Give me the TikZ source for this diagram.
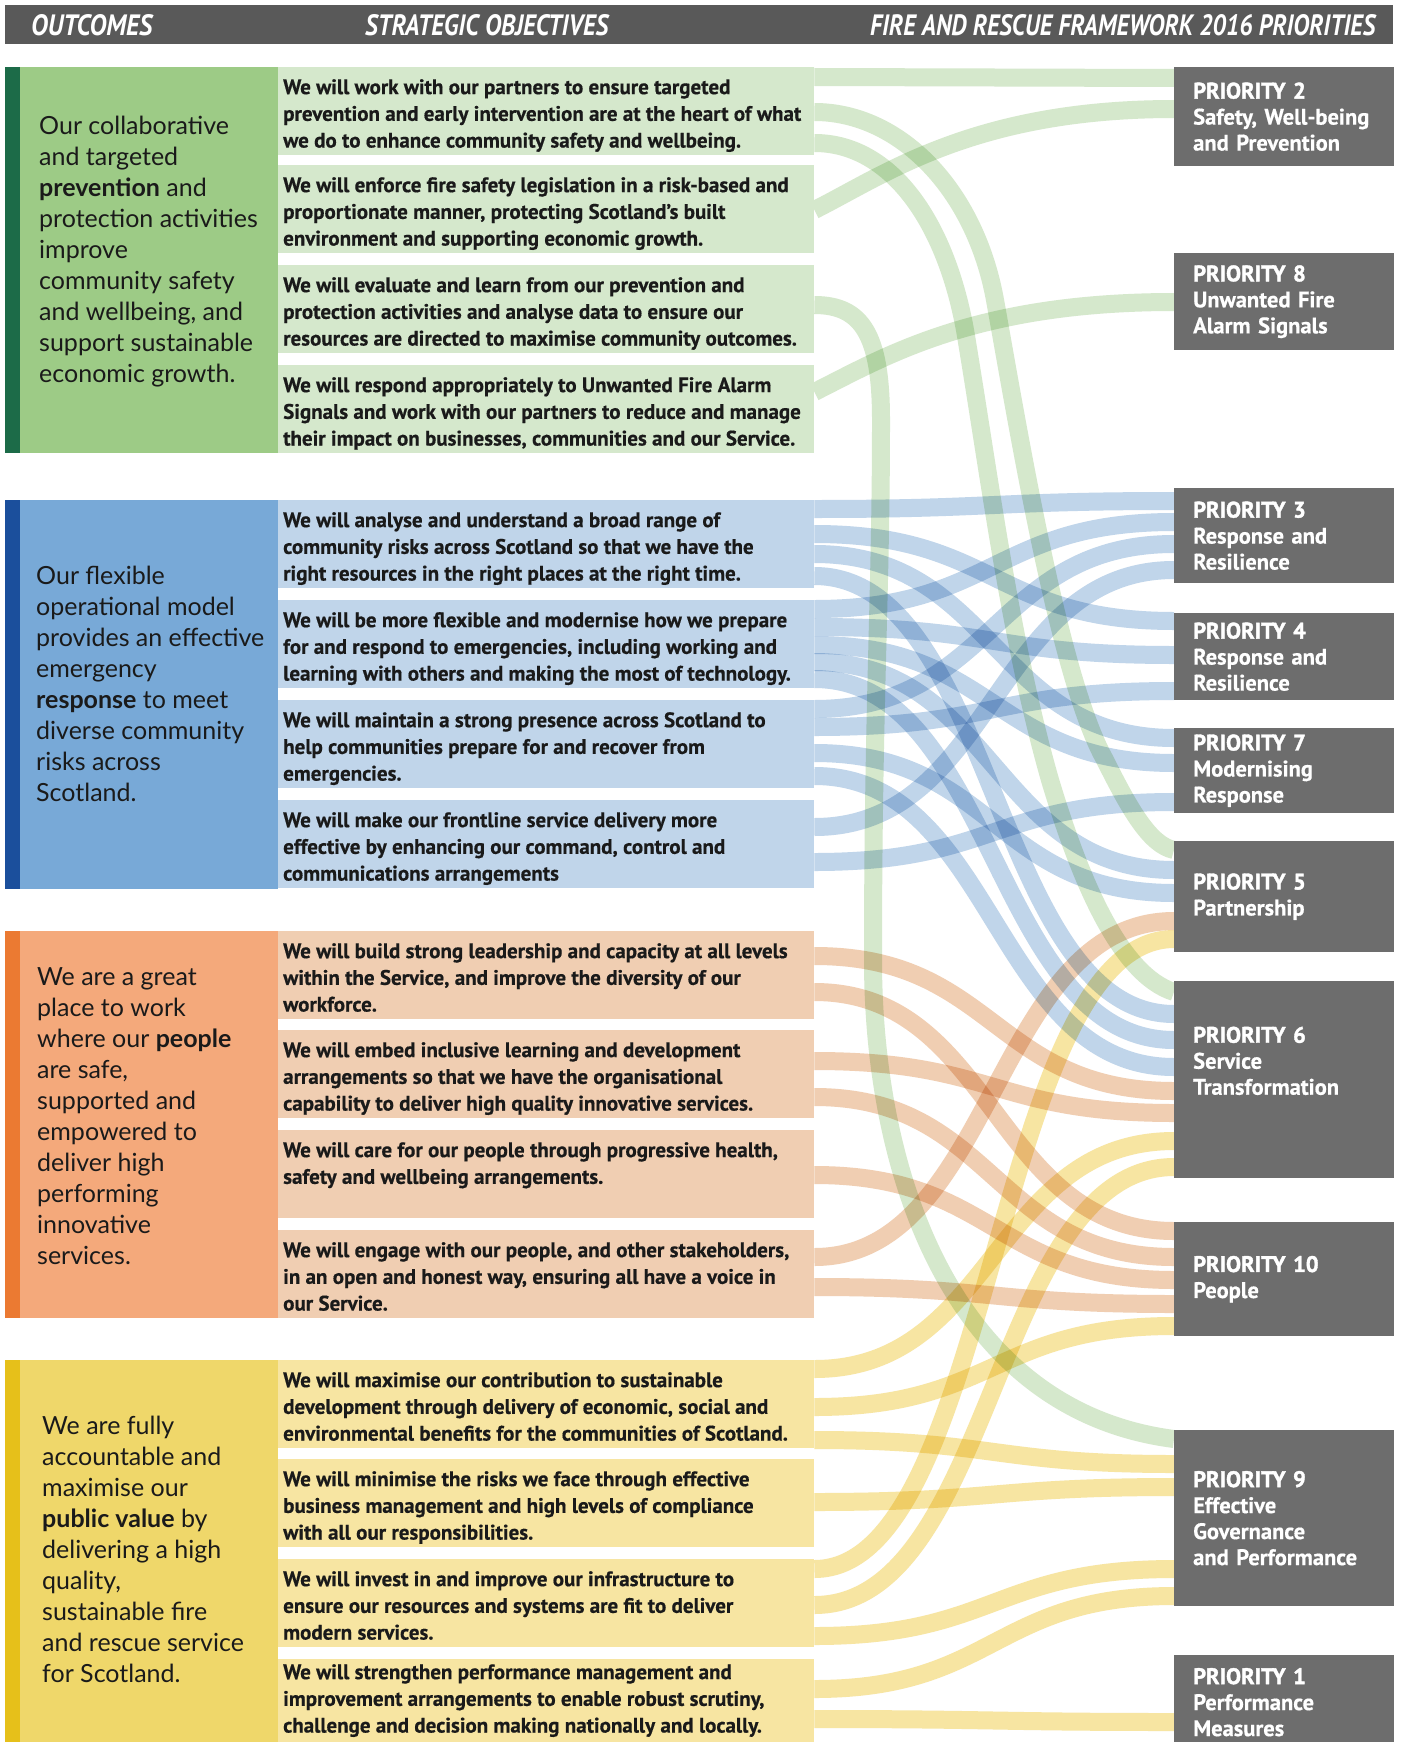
\documentclass[tikz,border=0pt]{standalone}
\usepackage{graphicx}
\usepackage{fontspec}
\setmainfont{PT Sans}[BoldFeatures={FakeBold=0.5}]
\newfontfamily\heavyfont{PT Sans}[BoldFeatures={FakeBold=1.6}]
\newfontfamily\outfont{Lato}
\usepackage{tikz}

\definecolor{hdrgrey}{HTML}{595959}
\definecolor{prigrey}{HTML}{6D6D6D}
\definecolor{txtdark}{HTML}{1A1A1A}
\definecolor{gdark}{HTML}{1C6B48}
\definecolor{gmid}{HTML}{9DCB86}
\definecolor{glight}{HTML}{D5E8CC}
\definecolor{bdark}{HTML}{1B4F9C}
\definecolor{bmid}{HTML}{78A9D7}
\definecolor{blight}{HTML}{C0D5EA}
\definecolor{odark}{HTML}{EB7A32}
\definecolor{omid}{HTML}{F4A97B}
\definecolor{olight}{HTML}{F0CEB2}
\definecolor{ydark}{HTML}{E6C01A}
\definecolor{ymid}{HTML}{EFD76A}
\definecolor{ylight}{HTML}{F7E5A2}

\pgfdeclarelayer{ribbons}
\pgfsetlayers{ribbons,main}

\newcommand\objtext[2][0pt]{\parbox[c][64pt][t]{526pt}{\vspace*{#1}\raggedright#2}}
\newcommand\prihead[1]{{\heavyfont\bfseries PRIORITY #1}}

\begin{document}
\begin{tikzpicture}
      [x=1pt, y=-1pt,
      outbox/.style 2 args={anchor=north west, minimum width=273pt, inner sep=0pt, fill=#1,
        path picture={\fill[#2] (path picture bounding box.north west) rectangle ([xshift=15pt]path picture bounding box.south west);}},
      outtxt/.style={anchor=west, inner sep=0pt, align=left, text=txtdark, font=\outfont\fontsize{25}{31}\selectfont},
      objbox/.style={anchor=north west, minimum width=536pt, minimum height=88pt, inner sep=0pt, fill=#1,
        text=txtdark, font=\fontsize{21}{26.7}\selectfont\bfseries},
      pribox/.style={anchor=north west, minimum width=220pt, minimum height=#1, inner sep=0pt, fill=prigrey,
        text=white, text width=182pt, align=left, font=\fontsize{22.5}{26}\selectfont\bfseries},
      hdrtxt/.style={anchor=base west, inner sep=0pt, text=white, font=\bfseries\itshape},
      flow/.style={line width=18pt, draw=#1}]
      \useasboundingbox (0,0) rectangle (1400,1742);
      \clip (0,0) rectangle (1400,1742);

      \node (hdr) at (5,5) [anchor=north west, fill=hdrgrey, minimum width=1388pt, minimum height=39pt, inner sep=0pt] {};
      \node (hdrout) at (31,35.5) [hdrtxt] {\resizebox{121pt}{21pt}{OUTCOMES}};
      \node (hdrobj) at (365,35.5) [hdrtxt] {\resizebox{243pt}{21pt}{STRATEGIC OBJECTIVES}};
      \node (hdrpri) at (870,35.5) [hdrtxt] {\resizebox{505pt}{21pt}{FIRE AND RESCUE FRAMEWORK 2016 PRIORITIES}};

      \node (prev) at (5,67) [outbox={gmid}{gdark}, minimum height=386pt] {};
      \node (resp) at (5,500) [outbox={bmid}{bdark}, minimum height=389pt] {};
      \node (peop) at (5,931) [outbox={omid}{odark}, minimum height=387pt] {};
      \node (pval) at (5,1360) [outbox={ymid}{ydark}, minimum height=390pt] {};

      \node (prevtxt) at (39,252) [outtxt] {Our collaborative\\and targeted\\\textbf{prevention} and\\protection activities\\improve\\community safety\\and wellbeing, and\\support sustainable\\economic growth.};
      \node (resptxt) at (36,684) [outtxt] {Our flexible\\operational model\\provides an effective\\emergency\\\textbf{response} to meet\\diverse community\\risks across\\Scotland.};
      \node (peoptxt) at (37,1116) [outtxt] {We are a great\\place to work\\where our \textbf{people}\\are safe,\\supported and\\empowered to\\deliver high\\performing\\innovative\\services.};
      \node (pvaltxt) at (42,1549) [outtxt] {We are fully\\accountable and\\maximise our\\\textbf{public value} by\\delivering a high\\quality,\\sustainable fire\\and rescue service\\for Scotland.};

      \node (prev1) at (278,67) [objbox=glight] {\objtext{We will work with our partners to ensure targeted\\prevention and early intervention are at the heart of what\\we do to enhance community safety and wellbeing.}};
      \node (prev2) at (278,165) [objbox=glight] {\objtext{We will enforce fire safety legislation in a risk-based and\\proportionate manner, protecting Scotland’s built\\environment and supporting economic growth.}};
      \node (prev3) at (278,265) [objbox=glight] {\objtext{We will evaluate and learn from our prevention and\\protection activities and analyse data to ensure our\\resources are directed to maximise community outcomes.}};
      \node (prev4) at (278,365) [objbox=glight] {\objtext{We will respond appropriately to Unwanted Fire Alarm\\Signals and work with our partners to reduce and manage\\their impact on businesses, communities and our Service.}};
      \node (resp1) at (278,500) [objbox=blight] {\objtext{We will analyse and understand a broad range of\\community risks across Scotland so that we have the\\right resources in the right places at the right time.}};
      \node (resp2) at (278,600) [objbox=blight] {\objtext{We will be more flexible and modernise how we prepare\\for and respond to emergencies, including working and\\learning with others and making the most of technology.}};
      \node (resp3) at (278,700) [objbox=blight] {\objtext{We will maintain a strong presence across Scotland to\\help communities prepare for and recover from\\emergencies.}};
      \node (resp4) at (278,800) [objbox=blight] {\objtext{We will make our frontline service delivery more\\effective by enhancing our command, control and\\communications arrangements}};
      \node (peop1) at (278,931) [objbox=olight] {\objtext{We will build strong leadership and capacity at all levels\\within the Service, and improve the diversity of our\\workforce.}};
      \node (peop2) at (278,1030) [objbox=olight] {\objtext{We will embed inclusive learning and development\\arrangements so that we have the organisational\\capability to deliver high quality innovative services.}};
      \node (peop3) at (278,1130) [objbox=olight] {\objtext{We will care for our people through progressive health,\\safety and wellbeing arrangements.}};
      \node (peop4) at (278,1230) [objbox=olight] {\objtext{We will engage with our people, and other stakeholders,\\in an open and honest way, ensuring all have a voice in\\our Service.}};
      \node (pval1) at (278,1360) [objbox=ylight] {\objtext{We will maximise our contribution to sustainable\\development through delivery of economic, social and\\environmental benefits for the communities of Scotland.}};
      \node (pval2) at (278,1459) [objbox=ylight] {\objtext{We will minimise the risks we face through effective\\business management and high levels of compliance\\with all our responsibilities.}};
      \node (pval3) at (278,1559) [objbox=ylight] {\objtext{We will invest in and improve our infrastructure to\\ensure our resources and systems are fit to deliver\\modern services.}};
      \node (pval4) at (278,1659) [objbox=ylight] {\objtext[-7pt]{We will strengthen performance management and\\improvement arrangements to enable robust scrutiny,\\challenge and decision making nationally and locally.}};

      \node (pr2) at (1174,67) [pribox=99pt] {\prihead{2}\\Safety, Well-being\\and Prevention};
      \node (pr8) at (1174,253) [pribox=97pt] {\prihead{8}\\Unwanted Fire\\Alarm Signals};
      \node (pr3) at (1174,488) [pribox=95pt] {\prihead{3}\\Response and\\Resilience};
      \node (pr4) at (1174,613) [pribox=87pt] {\prihead{4}\\Response and\\Resilience};
      \node (pr7) at (1174,728) [pribox=85pt] {\prihead{7}\\Modernising\\Response};
      \node (pr5) at (1174,841) [pribox=111pt] {\prihead{5}\\Partnership};
      \node (pr6) at (1174,981) [pribox=197pt] {\prihead{6}\\Service\\Transformation\\[12pt]\mbox{}};
      \node (pr10) at (1174,1222) [pribox=114pt] {\prihead{10}\\People};
      \node (pr9) at (1174,1430) [pribox=176pt] {\prihead{9}\\Effective\\Governance\\and Performance};
      \node (pr1) at (1174,1655) [pribox=94pt] {\prihead{1}\\Performance\\Measures};

      \begin{pgfonlayer}{ribbons}
        \fill[white] (0,0) rectangle (1400,1742);
        \begin{scope}[blend mode=multiply]
          \foreach \sA/\oA/\sB/\oB/\clr in {prev1/10/pr2/11/glight,
              resp1/9/pr3/13/blight, resp1/34/pr4/8/blight, resp1/54/pr7/10/blight, resp1/76/pr6/33/blight,
              resp2/9/pr3/34/blight, resp2/27/pr4/42/blight, resp2/45/pr7/35/blight, resp2/62/pr5/29/blight, resp2/79/pr6/59/blight,
              resp3/9/pr3/56/blight, resp3/27/pr4/78/blight, resp3/53/pr5/52/blight, resp3/76/pr6/86/blight,
              resp4/27/pr3/82/blight, resp4/62/pr7/74/blight,
              peop1/25/pr6/110/olight, peop1/61/pr10/9/olight, peop2/31/pr6/132/olight, peop2/67/pr10/35/olight,
              peop3/45/pr10/58/olight, peop4/27/pr5/80/olight, peop4/57/pr10/82/olight,
              pval1/9/pr6/160/ylight, pval1/47/pr10/104/ylight, pval1/80/pr9/34/ylight, pval2/43/pr9/57/ylight,
              pval3/10/pr5/98/ylight, pval3/46/pr6/186/ylight, pval3/77/pr9/139/ylight,
              pval4/30/pr9/166/ylight, pval4/60/pr1/67/ylight}
            \draw[flow=\clr] ([shift={(0,\oA)}]\sA.north east) .. controls +(180,0) and +(-180,0) .. ([shift={(0,\oB)}]\sB.north west);
          \draw[flow=glight] ([shift={(0,45)}]prev2.north east) .. controls +(70,-35) and +(-200,0) .. ([shift={(0,42)}]pr2.north west);
          \draw[flow=glight] ([shift={(0,27)}]prev4.north east) .. controls +(70,-35) and +(-200,0) .. ([shift={(0,49)}]pr8.north west);
          \draw[flow=glight] ([shift={(0,45)}]prev1.north east) .. controls (900,112) and (975,190) .. (995,300)
            .. controls (1020,440) and (1060,680) .. (1105,760) .. controls (1130,810) and (1150,845) .. ([shift={(0,9)}]pr5.north west);
          \draw[flow=glight] ([shift={(0,76)}]prev1.north east) .. controls (890,143) and (945,220) .. (965,330)
            .. controls (990,480) and (1010,640) .. (1050,780) .. controls (1080,880) and (1120,975) .. ([shift={(0,11)}]pr6.north west);
          \draw[flow=glight] ([shift={(0,40)}]prev3.north east) .. controls (862,305) and (881,335) .. (881,420)
            .. controls (881,600) and (873,700) .. (873,960) .. controls (873,1170) and (950,1410) .. ([shift={(0,9)}]pr9.north west);
        \end{scope}
      \end{pgfonlayer}
    \end{tikzpicture}
\end{document}
